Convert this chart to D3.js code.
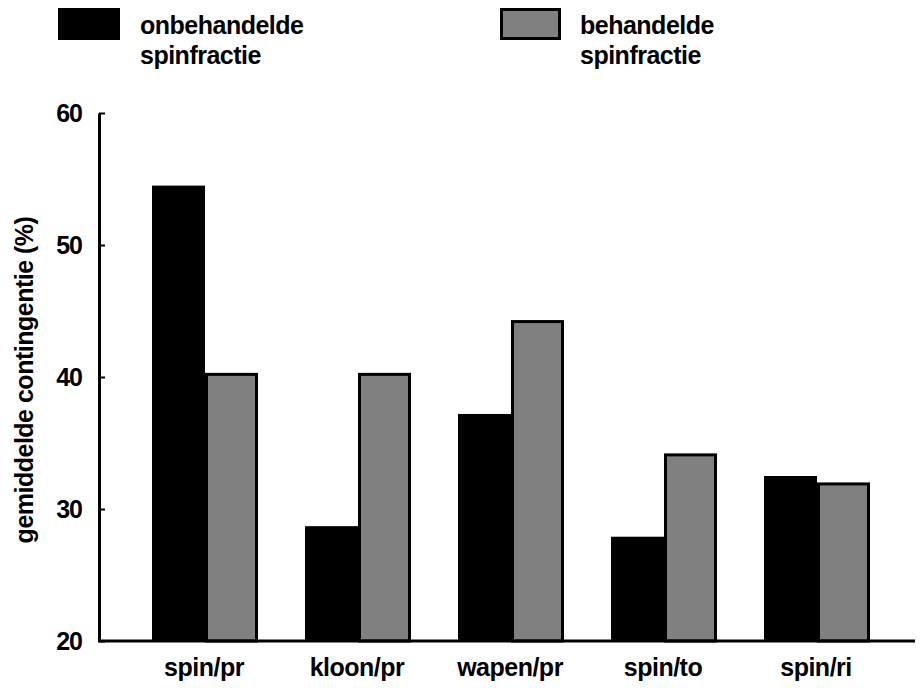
<!DOCTYPE html>
<html>
<head>
<meta charset="utf-8">
<script src="https://cdn.jsdelivr.net/npm/d3@7"></script>
<style>
  body { margin: 0; background: #fff; }
  text { font-family: "Liberation Sans", Arial, sans-serif; font-weight: bold; fill: #000; }
</style>
</head>
<body>
<svg width="923" height="688"></svg>
<script>
const categories = ["spin/pr", "kloon/pr", "wapen/pr", "spin/to", "spin/ri"];
const series = ["onbehandelde", "behandelde"];
const untreated = [54.5, 28.7, 37.2, 27.9, 32.5];
const treated = [40.2, 40.2, 44.2, 34.1, 31.9];
const yTicks = [20, 30, 40, 50, 60];
const legendLines = [["onbehandelde", "spinfractie"], ["behandelde", "spinfractie"]];
const yTitle = "gemiddelde contingentie (%)";

const svg = d3.select("svg");
const colors = d3.scaleOrdinal().domain(series).range(["#000000", "#808080"]);

const y = d3.scaleLinear().domain([20, 60]).range([641, 113]);
const x0 = d3.scaleBand().domain(categories).range([129.5, 894.5]);
const x1 = d3.scaleBand().domain(series)
  .range([x0.bandwidth() / 2 - 54, x0.bandwidth() / 2 + 52]);

const rows = categories.map((c, i) => ({ cat: c, values: [untreated[i], treated[i]] }));

// bars
const groups = svg.append("g").selectAll("g")
  .data(rows)
  .join("g")
  .attr("transform", (d) => `translate(${x0(d.cat)},0)`);

groups.selectAll("rect")
  .data((d) => d.values.map((v, j) => ({ key: series[j], value: v })))
  .join("rect")
  .attr("x", (d) => x1(d.key) + (d.key === series[1] ? 1.5 : 0))
  .attr("width", (d) => x1.bandwidth() - (d.key === series[1] ? 3 : 0))
  .attr("y", (d) => y(d.value))
  .attr("height", (d) => y(20) - y(d.value))
  .attr("fill", (d) => colors(d.key))
  .attr("stroke", (d) => (d.key === series[1] ? "#000" : "none"))
  .attr("stroke-width", 3);

// y axis
const yAxis = svg.append("g")
  .attr("transform", "translate(99,0)")
  .call(d3.axisLeft(y).tickValues(yTicks).tickSize(-6).tickSizeOuter(0).tickPadding(17));
yAxis.select(".domain").attr("stroke-width", 3);
yAxis.selectAll(".tick line").attr("stroke-width", 2);
yAxis.selectAll("text")
  .style("font-size", "25px")
  .style("font-family", "'Liberation Sans', Arial, sans-serif")
  .style("font-weight", "bold")
  .style("letter-spacing", "-1px");

// x axis
svg.append("line")
  .attr("x1", 98).attr("x2", 915)
  .attr("y1", y(20)).attr("y2", y(20))
  .attr("stroke", "#000").attr("stroke-width", 3);

svg.append("g").selectAll("text")
  .data(categories)
  .join("text")
  .attr("x", (d) => x0(d) + x0.bandwidth() / 2 - 2)
  .attr("y", 676)
  .attr("text-anchor", "middle")
  .style("font-size", "25px")
  .style("letter-spacing", "-0.5px")
  .text((d) => d);

// y title
svg.append("text")
  .attr("transform", "translate(33,380) rotate(-90)")
  .attr("text-anchor", "middle")
  .style("font-size", "25px")
  .style("letter-spacing", "-0.5px")
  .text(yTitle);

// legend
const legend = svg.append("g").selectAll("g")
  .data(series)
  .join("g")
  .attr("transform", (d, i) => `translate(${i === 0 ? 58 : 500},8)`);

legend.append("rect")
  .attr("x", (d, i) => (i === 0 ? 0 : 1.5))
  .attr("y", (d, i) => (i === 0 ? 0 : 1.5))
  .attr("width", (d, i) => (i === 0 ? 62 : 58))
  .attr("height", (d, i) => (i === 0 ? 32 : 29))
  .attr("fill", (d) => colors(d))
  .attr("stroke", (d, i) => (i === 0 ? "none" : "#000"))
  .attr("stroke-width", 3);

legend.append("text")
  .attr("x", (d, i) => (i === 0 ? 82 : 80))
  .style("font-size", "25px")
  .style("letter-spacing", "-0.5px")
  .selectAll("tspan")
  .data((d, i) => legendLines[i])
  .join("tspan")
  .attr("x", function () { return this.parentNode.getAttribute("x"); })
  .attr("y", (d, k) => 26 + k * 30)
  .text((d) => d);
</script>
</body>
</html>
